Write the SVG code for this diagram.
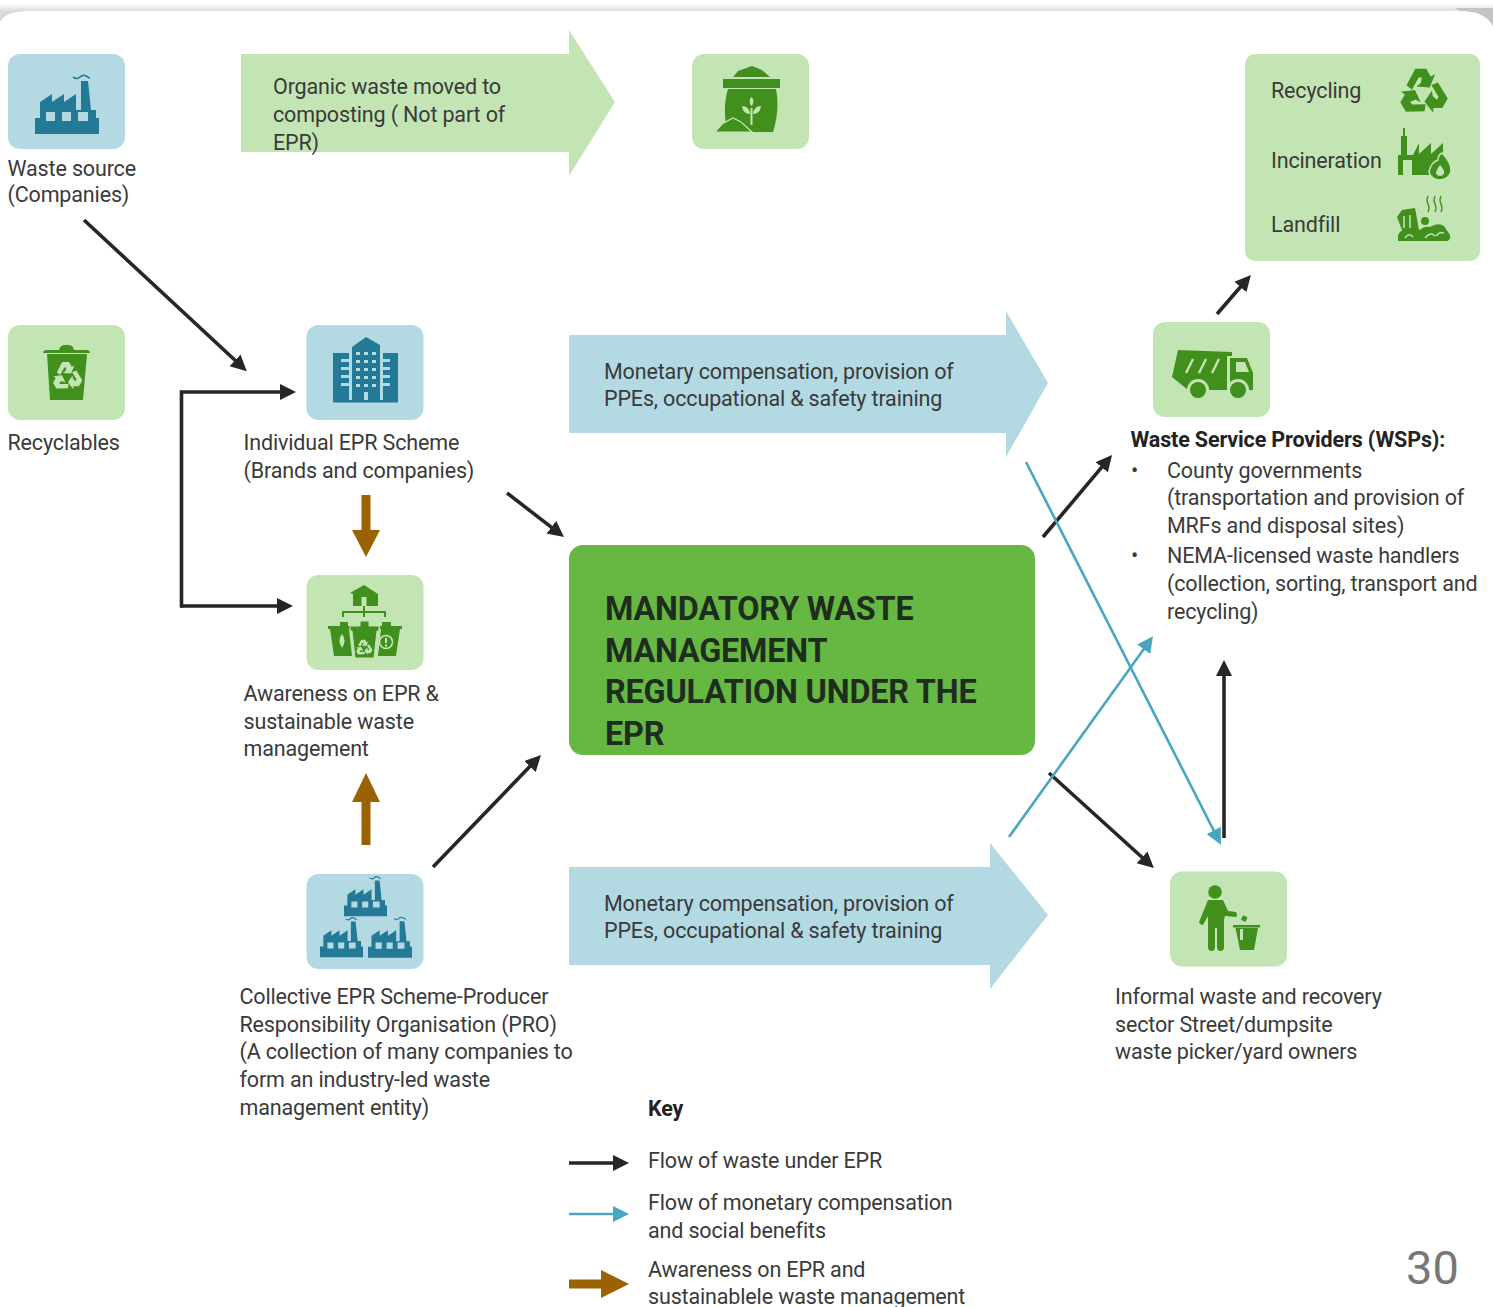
<svg xmlns="http://www.w3.org/2000/svg" width="1493" height="1307" viewBox="0 0 1493 1307">
<style>
text{font-family:Roboto,"Liberation Sans",sans-serif;font-size:21.5px;letter-spacing:-.15px;fill:#3a3a3a}
.b{font-weight:700;fill:#222}
.t{font-size:32.4px;letter-spacing:-.2px;font-weight:700;fill:#1f2d1f}
.g{fill:#c3e5b3}.l{fill:#b3d9e3}
.ig{fill:#41901d}.ib{fill:#247a96}
.lg{fill:#c3e5b3}.lb{fill:#b3d9e3}
.k{fill:none;stroke:#262626;stroke-width:3.6}
.c{fill:none;stroke:#48a6c0;stroke-width:2.6}
.o{fill:none;stroke:#9a6200;stroke-width:9}
</style>
<defs>
<linearGradient id="sh" gradientUnits="userSpaceOnUse" x1="0" y1="3" x2="0" y2="12"><stop offset="0" stop-color="#fff"/><stop offset="1" stop-color="#d8d8d8"/></linearGradient>
<marker id="mk" markerUnits="userSpaceOnUse" markerWidth="20" markerHeight="20" refX="4" refY="8" orient="auto"><path d="M0 0L16 8L0 16Z" fill="#262626"/></marker>
<marker id="mc" markerUnits="userSpaceOnUse" markerWidth="20" markerHeight="20" refX="4" refY="8" orient="auto"><path d="M0 0L16 8L0 16Z" fill="#48a6c0"/></marker>
<symbol id="factory" viewBox="0 0 64 60" overflow="visible">
<path class="ib" d="M0 60V44H5V28L17 20V28L29 20V28L41 20V36H46L46 7H53L56 36H61V44H64V60Z"/>
<path class="lb" d="M11 38h9v9h-9zM27 38h9v9h-9zM43 38h10v9h-10z"/>
<path d="M38 3q4 3 7 0t6-1t4 2" fill="none" stroke="#247a96" stroke-width="1.6"/>
</symbol>
<path id="rec" d="M-15-7L-7-22H3L7-15L11-17L6-5L-6-6L-2-9L-1-14H-4L-10-3Z"/>
</defs>

<rect width="1493" height="40" fill="url(#sh)"/>
<path d="M1455 8H1493V30Q1487 14 1460 11Z" fill="#c4c4c4"/>
<path d="M0 22Q5 11 30 11H1460Q1485 11 1493 26V1307H0Z" fill="#fff"/>

<g id="connectors">
<path class="k" marker-end="url(#mk)" d="M84 220L238 363"/>
<path class="k" marker-end="url(#mk)" d="M181.500 607.800V392H284"/>
<path class="k" marker-end="url(#mk)" d="M181.500 606H281"/>
<path class="k" marker-end="url(#mk)" d="M507 493L554.500 529.700"/>
<path class="k" marker-end="url(#mk)" d="M433 867L532.700 763.600"/>
<path class="k" marker-end="url(#mk)" d="M1043 537L1104.300 464.200"/>
<path class="k" marker-end="url(#mk)" d="M1217 314L1243 284"/>
<path class="k" marker-end="url(#mk)" d="M1224 838V672"/>
<path class="k" marker-end="url(#mk)" d="M1049 773L1145 860"/>
<path class="c" marker-end="url(#mc)" d="M1026 462L1215.500 834"/>
<path class="c" marker-end="url(#mc)" d="M1009 837L1146 646"/>
<path class="o" d="M366 495V532"/><path d="M352 530H380L366 557Z" fill="#9a6200"/>
<path class="o" d="M366 845V800"/><path d="M352 802H380L366 773Z" fill="#9a6200"/>
</g>

<g id="organic-arrow"><path class="g" d="M241 54H569V30L615 102L569 176V152H241Z"/>
<text x="273" y="94">Organic waste moved to</text><text x="273" y="122">composting ( Not part of</text><text x="273" y="150">EPR)</text></g>

<g id="monetary-top"><path class="l" d="M569 335H1006V311L1048 383L1006 457V433H569Z"/>
<text x="604" y="379">Monetary compensation, provision of</text><text x="604" y="406">PPEs, occupational &amp; safety training</text></g>

<g id="monetary-bottom"><path class="l" d="M569 867H990V843L1048 915L990 989V965H569Z"/>
<text x="604" y="911">Monetary compensation, provision of</text><text x="604" y="938">PPEs, occupational &amp; safety training</text></g>

<g id="regulation"><rect x="569" y="545" width="466" height="210" rx="14" fill="#66b843"/>
<text class="t" x="605" y="620">MANDATORY WASTE</text><text class="t" x="605" y="662">MANAGEMENT</text><text class="t" x="605" y="703">REGULATION UNDER THE</text><text class="t" x="605" y="745">EPR</text></g>

<g id="waste-source"><rect class="l" x="8" y="54" width="117" height="95" rx="12"/>
<use href="#factory" x="35" y="74" width="64" height="60"/>
<text x="7.500" y="176">Waste source</text><text x="7.500" y="202">(Companies)</text></g>

<g id="compost"><rect class="g" x="692" y="54" width="117" height="95" rx="12"/>
<path class="ig" d="M733 77L738 71L752 66L762 70L770 77Z"/><rect class="ig" x="723" y="79" width="57" height="9"/>
<path class="ig" d="M728 89H776Q780 110 773 132H740L726 125Q723 105 728 89Z"/>
<path class="ig" stroke="#c3e5b3" stroke-width="1.200" d="M715 132L722 124L733 118L741 122L752 132Z"/>
<path class="lg" d="M750.500 108h2v17h-2zM751.500 97q4 4 0 9q-4-5 0-9zM742 106q7 0 8 8q-7 0-8-8zM761 106q-7 0-8 8q7 0 8-8z"/></g>

<g id="treatment"><rect class="g" x="1245" y="54" width="235" height="207" rx="10"/>
<text x="1271" y="98">Recycling</text><text x="1271" y="168">Incineration</text><text x="1271" y="232">Landfill</text>
<g class="ig" transform="translate(1423 93) scale(1.100)"><use href="#rec"/><use href="#rec" transform="rotate(120)"/><use href="#rec" transform="rotate(240)"/></g>
<path class="ig" d="M1398 175V155H1401V136H1403V128H1405V136H1407V155H1413L1419 143V154L1431 143V154L1443 143V158L1434 170L1436 175Z"/>
<path class="lg" d="M1403 160H1412V175H1403Z"/>
<path class="ig" d="M1429 172Q1431 162 1438 160Q1438 155 1442 153Q1452 163 1451 172Q1448 180 1439 180Q1431 179 1429 172Z" stroke="#c3e5b3" stroke-width="1.500"/>
<path class="lg" d="M1440 165Q1445 170 1444 174Q1440 178 1436 174Q1436 170 1440 165Z"/>
<path class="ig" d="M1397 217L1402 210L1415 208L1419 230H1402Z"/><path class="ig" d="M1398 241Q1397 232 1403 230Q1410 226 1420 230Q1424 226 1430 227Q1438 222 1444 226L1450 235Q1451 240 1447 241Z"/>
<circle class="ig" cx="1425" cy="221" r="4"/>
<path d="M1404 216V228M1410 215V228M1405 238q4-6 8-1M1425 238q6-7 10-2M1436 236q4-5 8-3" fill="none" stroke="#c3e5b3" stroke-width="1.500"/>
<path d="M1428 196q-2 4 0 8t0 8M1435 196q-2 4 0 8t0 8M1441 196q-2 4 0 8t0 8" fill="none" stroke="#41901d" stroke-width="1.300"/></g>

<g id="recyclables"><rect class="g" x="8" y="325" width="117" height="95" rx="12"/>
<path class="ig" d="M43 353Q43 350 47 350H59Q60 345 66 345H68Q73 345 74 350H86Q90 350 90 353ZM47 354H87L83 400H50Z"/>
<g class="lg" transform="translate(67 377) scale(.68)"><use href="#rec"/><use href="#rec" transform="rotate(120)"/><use href="#rec" transform="rotate(240)"/></g>
<text x="7.500" y="450">Recyclables</text></g>

<g id="individual-epr"><rect class="l" x="306.500" y="325" width="117" height="95" rx="12"/>
<path class="ib" d="M352 400V347L366 337L380 345V400ZM333 353H349V400H333ZM383 353H398V400H383ZM333 400H398V402.500H333Z"/>
<path class="lb" d="M356 352h4v3h-4zM364 352h4v3h-4zM372 352h4v3h-4zM356 360h4v3h-4zM364 360h4v3h-4zM372 360h4v3h-4zM356 368h4v3h-4zM364 368h4v3h-4zM372 368h4v3h-4zM356 376h4v3h-4zM364 376h4v3h-4zM372 376h4v3h-4zM356 384h4v3h-4zM364 384h4v3h-4zM372 384h4v3h-4zM364 392h4v8h-4zM341 359h8v3h-8zM341 367h8v3h-8zM341 375h8v3h-8zM341 383h8v3h-8zM383 359h7v3h-7zM383 367h7v3h-7zM383 375h7v3h-7zM383 383h7v3h-7z"/>
<text x="243.500" y="450">Individual EPR Scheme</text><text x="243.500" y="478">(Brands and companies)</text></g>

<g id="awareness"><rect class="g" x="306.500" y="575" width="117" height="95" rx="12"/>
<path class="ig" fill-rule="evenodd" d="M364 585L378 594V606H353V594L350 593ZM361.500 597V606H366.500V597Z"/>
<path d="M343 617V612H385V617M364 606V617" fill="none" stroke="#41901d" stroke-width="2"/>
<path class="ig" d="M328 626H340V622H348V626H350V629H349L352 656H334L330 629H328ZM380 626H382V622H391V626H402V629H400L396 656H378L381 629H380Z"/>
<path class="ig" stroke="#c3e5b3" d="M350 626H360V621H369V626H379V631H377L374 658H355L352 631H350Z"/>
<path class="lg" d="M342 634q5 6 0 14q-5-8 0-14z"/>
<circle cx="386" cy="642" r="6.500" fill="none" stroke="#c3e5b3" stroke-width="1.600"/><path class="lg" d="M385 638h2v5h-2zM385 644.500h2v2h-2z"/>
<g class="lg" transform="translate(364 648) scale(.38)"><use href="#rec"/><use href="#rec" transform="rotate(120)"/><use href="#rec" transform="rotate(240)"/></g>
<text x="243.500" y="701">Awareness on EPR &amp;</text><text x="243.500" y="729">sustainable waste</text><text x="243.500" y="756">management</text></g>

<g id="collective-epr"><rect class="l" x="306.500" y="874" width="117" height="95" rx="12"/>
<use href="#factory" x="344" y="875" width="43" height="42"/>
<use href="#factory" x="320" y="916" width="43" height="42"/>
<use href="#factory" x="368" y="916" width="44" height="42"/>
<text x="239.500" y="1004">Collective EPR Scheme-Producer</text><text x="239.500" y="1032">Responsibility Organisation (PRO)</text><text x="239.500" y="1059">(A collection of many companies to</text><text x="239.500" y="1087">form an industry-led waste</text><text x="239.500" y="1115">management entity)</text></g>

<g id="wsp"><rect class="g" x="1153" y="322" width="117" height="95" rx="12"/>
<path class="ig" d="M1178 350L1232 352V356H1227V390H1188L1172 377Z"/>
<path class="ig" d="M1230 358H1247L1253 373V390H1230Z"/>
<path class="lg" d="M1236 362H1245L1249 372H1236Z"/>
<circle class="lg" cx="1198" cy="390" r="11"/><circle class="lg" cx="1238" cy="390" r="11"/>
<circle class="ig" cx="1198" cy="390" r="8"/><circle class="ig" cx="1238" cy="390" r="8"/>
<path d="M1186 373L1193 359M1199 373L1206 359M1212 373L1219 359" stroke="#c3e5b3" stroke-width="2.400" fill="none"/>
<text class="b" x="1130.500" y="447">Waste Service Providers (WSPs):</text>
<text x="1131" y="478">•</text><text x="1167" y="478">County governments</text><text x="1167" y="505">(transportation and provision of</text><text x="1167" y="533">MRFs and disposal sites)</text>
<text x="1131" y="563">•</text><text x="1167" y="563">NEMA-licensed waste handlers</text><text x="1167" y="591">(collection, sorting, transport and</text><text x="1167" y="619">recycling)</text></g>

<g id="informal"><rect class="g" x="1170" y="871.500" width="117" height="95" rx="12"/>
<circle class="ig" cx="1215" cy="892" r="6.800"/>
<path class="ig" d="M1208 900H1223L1228 911L1236 912Q1238 915 1236 917L1225 916L1224 920V947Q1224 951 1220.500 951T1217 947V928H1215V947Q1215 951 1211.500 951T1208 947V916L1203 925Q1200 925 1199 922Z"/>
<path class="ig" d="M1233 925H1260V927.500H1233ZM1235.500 928H1258L1254 950H1240Z"/><rect class="ig" x="1242" y="916" width="5" height="5" transform="rotate(25 1244 918)"/>
<rect class="lg" x="1240" y="929" width="3" height="11"/>
<text x="1115" y="1004">Informal waste and recovery</text><text x="1115" y="1032">sector Street/dumpsite</text><text x="1115" y="1059">waste picker/yard owners</text></g>

<g id="key"><text class="b" x="648" y="1116">Key</text>
<path class="k" marker-end="url(#mk)" d="M569 1163H617"/>
<path class="c" marker-end="url(#mc)" d="M569 1214H617"/>
<path class="o" d="M569 1284H605"/><path d="M601 1270L629 1284L601 1298Z" fill="#9a6200"/>
<text x="648" y="1168">Flow of waste under EPR</text>
<text x="648" y="1210">Flow of monetary compensation</text><text x="648" y="1238">and social benefits</text>
<text x="648" y="1277">Awareness on EPR and</text><text x="648" y="1304">sustainablele waste management</text></g>
<text x="1406" y="1284" style="font-size:47px;letter-spacing:0;fill:#777">30</text>
</svg>
